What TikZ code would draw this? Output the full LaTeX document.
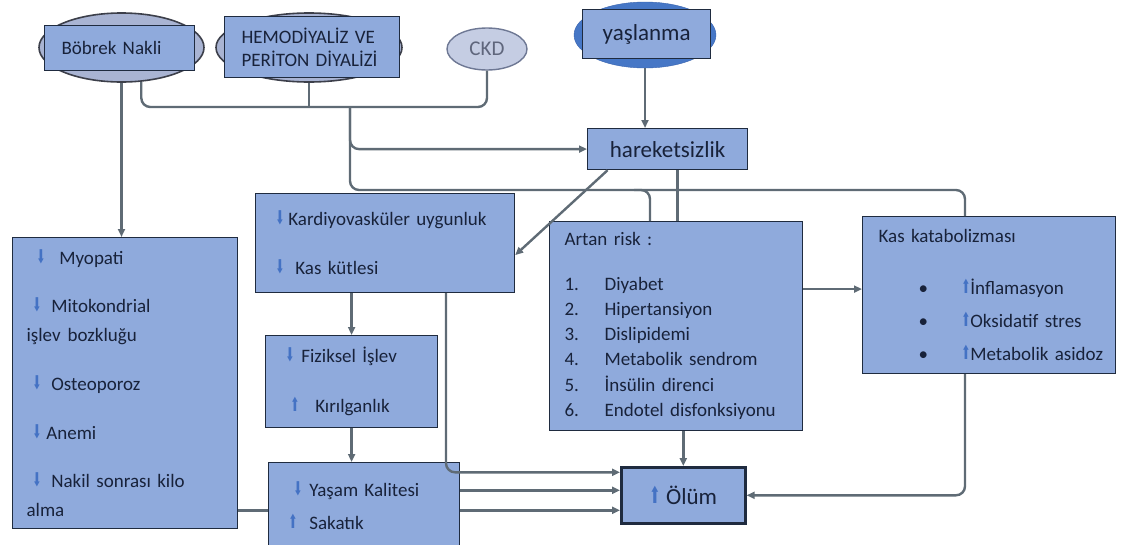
\documentclass[tikz,border=0pt]{standalone}
\usepackage{fontspec}
\setmainfont{Carlito}
\newfontfamily\arrowfont{DejaVu Sans}
\usetikzlibrary{shapes,positioning,arrows.meta,calc}

\definecolor{boxfill}{HTML}{8FAADC}
\definecolor{boxline}{HTML}{1F2B3F}
\definecolor{txt}{HTML}{18223A}
\definecolor{linkgray}{HTML}{5F6B75}
\definecolor{ellfill}{HTML}{A9B4D3}
\definecolor{ellline}{HTML}{3C3F4A}
\definecolor{ckdfill}{HTML}{C5CDE3}
\definecolor{ckdline}{HTML}{6E7894}
\definecolor{ckdtxt}{HTML}{5F667C}
\definecolor{yasfill}{HTML}{4677C6}
\definecolor{yasline}{HTML}{3A64AE}
\definecolor{arrowblue}{HTML}{4472C4}

\newcommand{\kdown}{\raisebox{1pt}{\textcolor{arrowblue}{\arrowfont\bfseries\scalebox{0.55}[1]{⬇}}}}
\newcommand{\kup}{\raisebox{1pt}{\textcolor{arrowblue}{\arrowfont\bfseries\scalebox{0.55}[1]{⬆}}}}

\begin{document}
\begin{tikzpicture}[x=1pt,y=-1pt,
    box/.style={rectangle, draw=boxline, fill=boxfill, line width=1.2pt,
                text=txt, anchor=north west, align=left,
                font=\fontsize{19}{23}\selectfont},
    topell/.style={ellipse, draw=ellline, fill=ellfill, line width=1.6pt},
    link/.style={draw=linkgray, line width=2.4pt, rounded corners=9pt},
    arr/.style={link, -{Triangle[length=8pt,width=7pt]}}]

    \useasboundingbox (0,0) rectangle (1121,544);

    % top row
    \node [topell, minimum width=165, minimum height=69] (bobrekEll) at (121.5,47.5) {};
    \node [topell, minimum width=186, minimum height=69] (hemoEll) at (309,47.5) {};
    \node [ellipse, draw=yasline, fill=yasfill, minimum width=142, minimum height=66] (yasEll) at (645,35) {};
    \node [box, minimum width=150, minimum height=45, inner xsep=17, text width=116] (bobrek) at (44,25) {Böbrek Nakli};
    \node [box, minimum width=175, minimum height=61, inner xsep=17, text width=141] (hemo) at (224,16)
        {HEMODİYALİZ VE\\PERİTON DİYALİZİ};
    \node [ellipse, draw=ckdline, fill=ckdfill, line width=1.4pt, minimum width=80, minimum height=42,
        text=ckdtxt, font=\fontsize{21}{24}\selectfont] (ckd) at (487,49) {CKD};
    \node [box, minimum width=128, minimum height=49, font=\fontsize{23}{27}\selectfont] (yas) at (582,9) {yaşlanma};
    \node [box, minimum width=160, minimum height=41, font=\fontsize{23}{27}\selectfont] (hareket) at (587,128) {hareketsizlik};

    % boxes
    \node [box, minimum width=225, minimum height=291, inner xsep=14, text width=197,
        font=\fontsize{19}{29}\selectfont] (myopati) at (12,237) {
        \hspace*{10pt}\kdown\hspace*{14pt}Myopati\\[19pt]
        \hspace*{6pt}\kdown\hspace*{10pt}Mitokondrial\\
        işlev\hspace*{7pt}bozkluğu\\[20pt]
        \hspace*{6pt}\kdown\hspace*{10pt}Osteoporoz\\[20pt]
        \hspace*{6pt}\kdown\hspace*{5pt}Anemi\\[19pt]
        \hspace*{6pt}\kdown\hspace*{10pt}Nakil sonrası kilo\\
        alma};
    \node [box, minimum width=259, minimum height=99, inner xsep=20, text width=219,
        font=\fontsize{19}{49}\selectfont] (kardiyo) at (255,193) {
        \kdown\hspace*{4pt}Kardiyovasküler uygunluk\\
        \kdown\hspace*{11pt}Kas kütlesi};
    \node [box, minimum width=172, minimum height=92, inner xsep=20, text width=132,
        font=\fontsize{19}{50}\selectfont] (fiziksel) at (265,335) {
        \kdown\hspace*{7pt}Fiziksel İşlev\\
        \hspace*{5pt}\kup\hspace*{16pt}Kırılganlık};
    \node [box, minimum width=191, minimum height=86, inner xsep=20, text width=151,
        font=\fontsize{19}{33}\selectfont] (yasam) at (268,462) {
        \hspace*{5pt}\kdown\hspace*{7pt}Yaşam Kalitesi\\
        \kup\hspace*{12pt}Sakatık};
    \node [box, minimum width=253, minimum height=209, inner xsep=15, text width=223,
        font=\fontsize{19}{25.3}\selectfont] (artan) at (549,221) {
        Artan risk :\\[19pt]
        \makebox[40pt][l]{1.}Diyabet\\
        \makebox[40pt][l]{2.}Hipertansiyon\\
        \makebox[40pt][l]{3.}Dislipidemi\\
        \makebox[40pt][l]{4.}Metabolik sendrom\\
        \makebox[40pt][l]{5.}İnsülin direnci\\
        \makebox[40pt][l]{6.}Endotel disfonksiyonu};
    \node [box, minimum width=253, minimum height=157, inner xsep=6, text width=241,
        font=\fontsize{19}{33}\selectfont] (kas) at (862,216) {
        \hspace*{10pt}Kas katabolizması\\[19pt]
        \hspace*{50pt}\makebox[43pt][l]{•}\kup İnflamasyon\\
        \hspace*{50pt}\makebox[43pt][l]{•}\kup Oksidatif stres\\
        \hspace*{50pt}\makebox[43pt][l]{•}\kup Metabolik asidoz};
    \node [box, line width=2.6pt, minimum width=124, minimum height=56,
        font=\fontsize{23}{27}\selectfont] (olum) at (620,466) {\kup\hspace*{6pt}Ölüm};

    % junctions
    \coordinate (bus) at (350,107);
    \coordinate (rail) at (350,190);
    \coordinate (kasIn) at ([xshift=103pt]kas.north west);
    \coordinate (artanIn) at ([xshift=101pt]artan.north west);
    \coordinate (artanKnee) at (artanIn |- rail);
    \coordinate (kardOut) at ([xshift=191pt]kardiyo.south west);

    % connectors
    \draw [arr] (bobrekEll.south) -- (bobrekEll.south |- myopati.north);
    \draw [link] (bobrekEll.-60) |- (ckd.south |- bus) -- (ckd.south);
    \draw [link] (hemoEll.south) -- (hemoEll.south |- bus);
    \draw [arr] (yasEll.south) -- (yasEll.south |- hareket.north);
    \draw [arr] (bus) |- (hareket.west);
    \draw [link] (bus) -- (rail) -- (rail -| kasIn) -- (kasIn);
    \draw [link] ([xshift=-16pt]artanKnee) -- (artanKnee) -- (artanIn);
    \draw [link] ([xshift=10pt]hareket.south) -- ([xshift=10pt]hareket.south |- artan.north);
    \draw [arr] ([xshift=-60pt]hareket.south) -- ([yshift=-12pt]kardiyo.east);
    \draw [arr] (kardiyo.south -| fiziksel.north) -- (fiziksel.north);
    \draw [arr] (fiziksel.south) -- (fiziksel.south |- yasam.north);
    \draw [arr] (kardOut) |- ([yshift=23pt]olum.west);
    \draw [arr] ([yshift=5pt]olum.west -| yasam.east) -- ([yshift=5pt]olum.west);
    \draw [arr] ([yshift=-15pt]olum.west -| yasam.east) -- ([yshift=-15pt]olum.west);
    \draw [link] ([yshift=-5pt]yasam.west -| myopati.east) -- ([yshift=-5pt]yasam.west);
    \draw [arr] ([yshift=6pt]kas.west -| artan.east) -- ([yshift=6pt]kas.west);
    \draw [arr] (olum.north |- artan.south) -- (olum.north);
    \draw [arr] (kasIn |- kas.south) |- (olum.east);

\end{tikzpicture}
\end{document}
